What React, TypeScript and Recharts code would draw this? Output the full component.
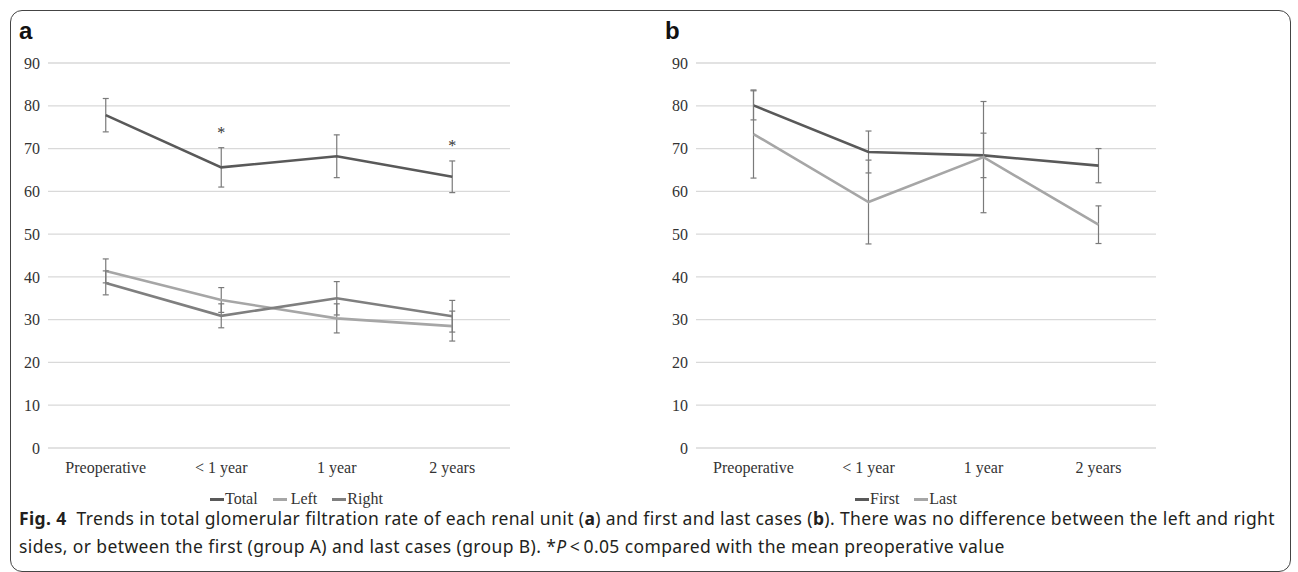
import { LineChart, Line, XAxis, YAxis, CartesianGrid, ErrorBar, LabelList, Legend } from "recharts";

// time points on the x axis
const stages = ["Preoperative", "< 1 year", "1 year", "2 years"];

// panel a: renal units
const totalGfr = [77.8, 65.6, 68.2, 63.4];
const totalErr = [3.9, 4.6, 5.0, 3.7];
const leftGfr = [41.4, 34.6, 30.3, 28.5];
const leftErr = [2.8, 2.9, 3.4, 3.5];
const rightGfr = [38.6, 30.9, 35.0, 30.8];
const rightErr = [2.8, 2.8, 3.9, 3.7];
const significant = [false, true, false, true];

// panel b: first vs last cases
const firstGfr = [80.1, 69.2, 68.4, 66.0];
const firstErr = [3.4, 4.9, 5.2, 4.0];
const lastGfr = [73.4, 57.5, 68.0, 52.2];
const lastErr = [10.3, 9.8, 13.0, 4.4];

const yTicks = [0, 10, 20, 30, 40, 50, 60, 70, 80, 90];

const dataA = stages.map((stage, i) => ({
  stage,
  total: totalGfr[i],
  totalErr: totalErr[i],
  left: leftGfr[i],
  leftErr: leftErr[i],
  right: rightGfr[i],
  rightErr: rightErr[i],
  starY: significant[i] ? totalGfr[i] + totalErr[i] + 3.6 : null,
  star: significant[i] ? "*" : undefined,
}));

const dataB = stages.map((stage, i) => ({
  stage,
  first: firstGfr[i],
  firstErr: firstErr[i],
  last: lastGfr[i],
  lastErr: lastErr[i],
}));

const SERIF = '"Liberation Serif", "Times New Roman", serif';
const DARK = "#595959";
const MID = "#7f7f7f";
const LIGHT = "#a6a6a6";
const ERR = "#7a7a7a";

const tickStyle = { fontFamily: SERIF, fontSize: 16, fill: "#333" };

const legendA = [
  { name: "Total", color: DARK },
  { name: "Left", color: LIGHT },
  { name: "Right", color: MID },
];
const legendB = [
  { name: "First", color: DARK },
  { name: "Last", color: LIGHT },
];

function makeLegend(items: { name: string; color: string }[], padLeft: number) {
  return () => (
    <div
      style={{
        display: "flex",
        paddingLeft: padLeft,
        gap: 15,
        height: 16,
        lineHeight: "16px",
        fontFamily: SERIF,
        fontSize: 16,
        color: "#333",
      }}
    >
      {items.map((p) => (
        <span key={p.name} style={{ display: "flex", alignItems: "center" }}>
          <span style={{ display: "inline-block", width: 14, height: 3, background: p.color, marginRight: p.name === "Left" ? 4 : 1 }} />
          {p.name}
        </span>
      ))}
    </div>
  );
}

function Panel({ children, letter, left }: { children: any; letter: string; left: number }) {
  return (
    <div style={{ position: "absolute", left, top: 0 }}>
      <div
        style={{
          position: "absolute",
          left: 11,
          top: 17,
          fontFamily: '"Liberation Sans", Arial, sans-serif',
          fontWeight: 700,
          fontSize: 24,
          color: "#111",
        }}
      >
        {letter}
      </div>
      {children}
    </div>
  );
}

const plotMargin = { top: 23, right: 10, bottom: 13, left: 0 };

export default function App() {
  return (
    <div style={{ position: "absolute", left: 0, top: 0, width: 1298, height: 572, background: "#fff", overflow: "hidden" }}>
      <div
        style={{
          position: "absolute",
          left: 10,
          top: 10,
          width: 1281,
          height: 562,
          border: "1.5px solid #444",
          borderRadius: 12,
          boxSizing: "border-box",
        }}
      />
      <Panel letter="a" left={8}>
        <div style={{ position: "absolute", left: -8, top: 40 }}>
          <LineChart width={520} height={480} data={dataA} margin={plotMargin}>
            <CartesianGrid vertical={false} stroke="#d9d9d9" strokeWidth={1.3} />
            <XAxis
              dataKey="stage"
              axisLine={false}
              tickLine={false}
              padding={{ left: 57.75, right: 57.75 }}
              tick={tickStyle}
              tickMargin={8}
              height={43}
              interval={0}
            />
            <YAxis domain={[0, 90]} ticks={yTicks} axisLine={false} tickLine={false} width={48} tick={tickStyle} />
            <Legend verticalAlign="bottom" height={16} content={makeLegend(legendA, 210)} />
            <Line dataKey="total" name="Total" stroke={DARK} strokeWidth={2.6} dot={false} isAnimationActive={false}>
              <ErrorBar dataKey="totalErr" width={3} stroke={ERR} strokeWidth={1.2} direction="y" />
            </Line>
            <Line dataKey="left" name="Left" stroke={LIGHT} strokeWidth={2.6} dot={false} isAnimationActive={false}>
              <ErrorBar dataKey="leftErr" width={3} stroke={ERR} strokeWidth={1.2} direction="y" />
            </Line>
            <Line dataKey="right" name="Right" stroke={MID} strokeWidth={2.6} dot={false} isAnimationActive={false}>
              <ErrorBar dataKey="rightErr" width={3} stroke={ERR} strokeWidth={1.2} direction="y" />
            </Line>
            <Line dataKey="starY" stroke="none" dot={false} legendType="none" isAnimationActive={false}>
              <LabelList dataKey="star" position="center" style={{ fontFamily: SERIF, fontSize: 16, fill: "#333" }} />
            </Line>
          </LineChart>
        </div>
      </Panel>
      <Panel letter="b" left={654}>
        <div style={{ position: "absolute", left: -6, top: 40 }}>
          <LineChart width={520} height={480} data={dataB} margin={{ ...plotMargin, right: 12 }}>
            <CartesianGrid vertical={false} stroke="#d9d9d9" strokeWidth={1.3} />
            <XAxis
              dataKey="stage"
              axisLine={false}
              tickLine={false}
              padding={{ left: 57.5, right: 57.5 }}
              tick={tickStyle}
              tickMargin={8}
              height={43}
              interval={0}
            />
            <YAxis domain={[0, 90]} ticks={yTicks} axisLine={false} tickLine={false} width={48} tick={tickStyle} />
            <Legend verticalAlign="bottom" height={16} content={makeLegend(legendB, 207)} />
            <Line dataKey="first" name="First" stroke={DARK} strokeWidth={2.6} dot={false} isAnimationActive={false}>
              <ErrorBar dataKey="firstErr" width={3} stroke={ERR} strokeWidth={1.2} direction="y" />
            </Line>
            <Line dataKey="last" name="Last" stroke={LIGHT} strokeWidth={2.6} dot={false} isAnimationActive={false}>
              <ErrorBar dataKey="lastErr" width={3} stroke={ERR} strokeWidth={1.2} direction="y" />
            </Line>
          </LineChart>
        </div>
      </Panel>
      <div
        style={{
          position: "absolute",
          left: 19,
          top: 508,
          fontFamily: '"Noto Sans", sans-serif',
          fontSize: 17.5,
          letterSpacing: 0.38,
          lineHeight: "21px",
          color: "#231f20",
          whiteSpace: "nowrap",
        }}
      >
        <div>
          <b>Fig. 4</b>&nbsp; Trends in total glomerular filtration rate of each renal unit (<b>a</b>) and first and last cases (<b>b</b>). There was no difference between the left and right
        </div>
        <div style={{ marginTop: 7 }}>
          sides, or between the first (group A) and last cases (group B). *<i>P</i>&thinsp;&lt;&thinsp;0.05 compared with the mean preoperative value
        </div>
      </div>
    </div>
  );
}
